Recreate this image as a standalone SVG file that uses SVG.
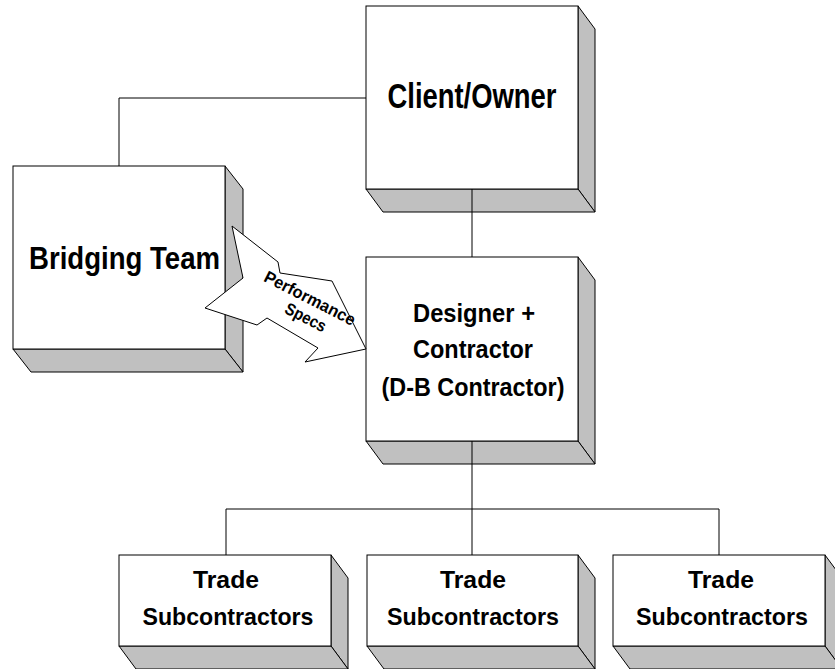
<svg xmlns="http://www.w3.org/2000/svg" width="835" height="669" viewBox="0 0 835 669">
<style>
.face{fill:#ffffff;stroke:#000;stroke-width:1}
.shade{fill:#c0c0c0;stroke:#000;stroke-width:1;stroke-linejoin:miter}
.conn{fill:none;stroke:#000;stroke-width:1}
.lbl{font-family:"Liberation Sans",Arial,sans-serif;font-weight:bold;fill:#000;text-anchor:middle}
</style>
<rect x="0" y="0" width="835" height="669" fill="#ffffff"/>
<g id="client">
<polygon class="shade" points="578,6 595,29 595,212 578,189"/>
<polygon class="shade" points="366,189 578,189 595,212 383,212"/>
<rect class="face" x="366" y="6" width="212" height="183"/>
<text class="lbl" x="472" y="108" font-size="35" textLength="169" lengthAdjust="spacingAndGlyphs">Client/Owner</text>
</g>
<g id="bridging">
<polygon class="shade" points="225,166 243,189 243,372 225,349"/>
<polygon class="shade" points="13,349 225,349 243,372 31,372"/>
<rect class="face" x="13" y="166" width="212" height="183"/>
<text class="lbl" x="124.5" y="269" font-size="31" textLength="191" lengthAdjust="spacingAndGlyphs">Bridging Team</text>
</g>
<g id="designer">
<polygon class="shade" points="578,257 595,280 595,464 578,441"/>
<polygon class="shade" points="366,441 578,441 595,464 383,464"/>
<rect class="face" x="366" y="257" width="212" height="184"/>
<text class="lbl" x="474" y="322" font-size="25" textLength="122" lengthAdjust="spacingAndGlyphs">Designer +</text>
<text class="lbl" x="473" y="358" font-size="25" textLength="120" lengthAdjust="spacingAndGlyphs">Contractor</text>
<text class="lbl" x="473" y="396" font-size="25" textLength="183" lengthAdjust="spacingAndGlyphs">(D-B Contractor)</text>
</g>
<g id="trade1">
<polygon class="shade" points="331,555 348,578 348,669 331,646"/>
<polygon class="shade" points="119,646 331,646 348,669 136,669"/>
<rect class="face" x="119" y="555" width="212" height="91"/>
<text class="lbl" x="226" y="588" font-size="24" textLength="66" lengthAdjust="spacingAndGlyphs">Trade</text>
<text class="lbl" x="228" y="625" font-size="24" textLength="171" lengthAdjust="spacingAndGlyphs">Subcontractors</text>
</g>
<g id="trade2">
<polygon class="shade" points="578,555 595,578 595,669 578,646"/>
<polygon class="shade" points="367,646 578,646 595,669 384,669"/>
<rect class="face" x="367" y="555" width="211" height="91"/>
<text class="lbl" x="473" y="588" font-size="24" textLength="66" lengthAdjust="spacingAndGlyphs">Trade</text>
<text class="lbl" x="473" y="625" font-size="24" textLength="172" lengthAdjust="spacingAndGlyphs">Subcontractors</text>
</g>
<g id="trade3">
<polygon class="shade" points="825,555 842,578 842,669 825,646"/>
<polygon class="shade" points="613,646 825,646 842,669 630,669"/>
<rect class="face" x="613" y="555" width="212" height="91"/>
<text class="lbl" x="721" y="588" font-size="24" textLength="66" lengthAdjust="spacingAndGlyphs">Trade</text>
<text class="lbl" x="722" y="625" font-size="24" textLength="172" lengthAdjust="spacingAndGlyphs">Subcontractors</text>
</g>
<g id="connectors">
<polyline class="conn" points="119,166 119,98 366,98"/>
<line class="conn" x1="472" y1="189" x2="472" y2="257"/>
<line class="conn" x1="472" y1="441" x2="472" y2="509"/>
<line class="conn" x1="226" y1="509" x2="719" y2="509"/>
<line class="conn" x1="226" y1="509" x2="226" y2="555"/>
<line class="conn" x1="472" y1="509" x2="472" y2="555"/>
<line class="conn" x1="719" y1="509" x2="719" y2="555"/>
</g>
<g id="performance-specs">
<polygon points="232,226 278,262 280,273 332,281 366,349 305,362 318,348 267,318 257,325 205,308 243,278" fill="#ffffff" stroke="#000" stroke-width="1" stroke-linejoin="miter"/>
<g transform="translate(310,298) rotate(27)">
<text class="lbl" x="0" y="6" font-size="17" textLength="100" lengthAdjust="spacingAndGlyphs">Performance</text>
<text class="lbl" x="5" y="25" font-size="17" textLength="44" lengthAdjust="spacingAndGlyphs">Specs</text>
</g>
</g>
</svg>
